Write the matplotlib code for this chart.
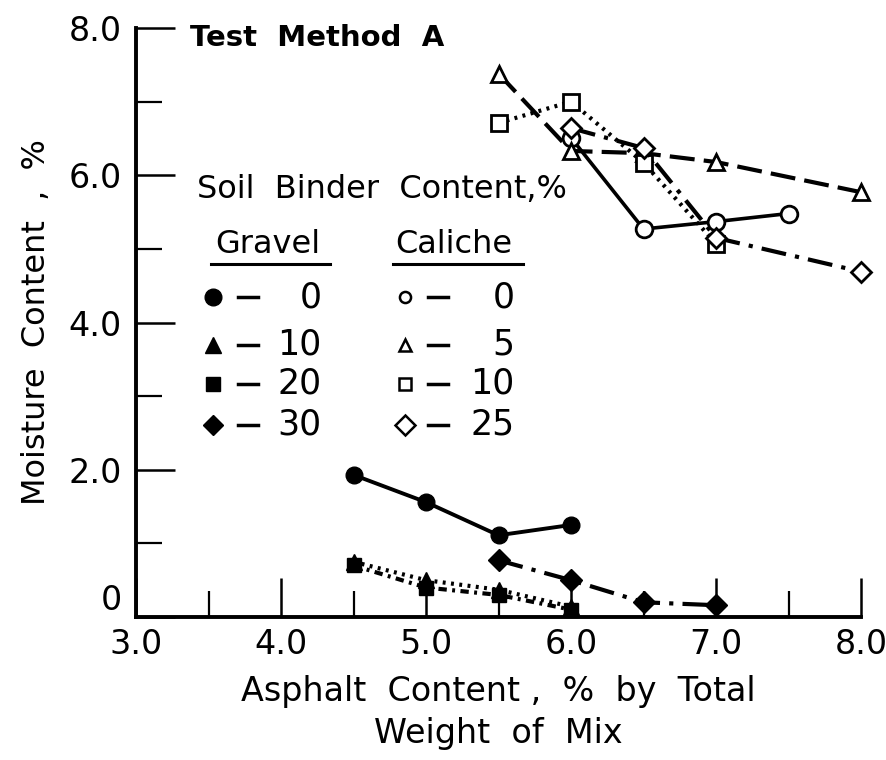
import numpy as np
import matplotlib.pyplot as plt
from matplotlib.ticker import MultipleLocator, FixedLocator

plt.rcParams['font.family'] = ['DejaVu Sans']

# caliche series (open markers)
cal0_x = [6.0, 6.5, 7.0, 7.5]
cal0_y = [6.51, 5.27, 5.37, 5.48]
cal5_x = [5.5, 6.0, 6.5, 7.0, 8.0]
cal5_y = [7.38, 6.33, 6.3, 6.18, 5.77]
cal10_x = [5.5, 6.0, 6.5, 7.0]
cal10_y = [6.71, 7.0, 6.17, 5.07]
cal25_x = [6.0, 6.5, 7.0, 8.0]
cal25_y = [6.64, 6.37, 5.15, 4.69]

# gravel series (filled markers)
gr0_x = [4.5, 5.0, 5.5, 6.0]
gr0_y = [1.93, 1.56, 1.11, 1.25]
gr10_x = [4.5, 5.0, 5.5, 6.0]
gr10_y = [0.75, 0.50, 0.37, 0.14]
gr20_x = [4.5, 5.0, 5.5, 6.0]
gr20_y = [0.70, 0.40, 0.30, 0.10]
gr30_x = [5.5, 6.0, 6.5, 7.0]
gr30_y = [0.77, 0.50, 0.20, 0.16]

xticks = [3.0, 4.0, 5.0, 6.0, 7.0, 8.0]
xtick_labels = ['3.0', '4.0', '5.0', '6.0', '7.0', '8.0']
yticks = [0, 2, 4, 6, 8]
ytick_labels = ['0', '2.0', '4.0', '6.0', '8.0']

fig = plt.figure(figsize=(8.86, 7.6), dpi=100)
ax = fig.add_axes([136 / 886, 1 - 617 / 760, 725 / 886, 589 / 760])

lw = 3.0
k = 'black'
ax.plot(cal0_x, cal0_y, '-', color=k, lw=2.6, marker='o', ms=12, mfc='white', mew=2, clip_on=False)
ax.plot(cal5_x, cal5_y, color=k, lw=lw, ls=(0, (6, 2.2)), marker='^', ms=12, mfc='white', mew=2, clip_on=False)
ax.plot(cal10_x, cal10_y, color=k, lw=lw, ls=(0, (0.7, 1.3)), marker='s', ms=11, mfc='white', mew=2, clip_on=False)
ax.plot(cal25_x, cal25_y, color=k, lw=lw, ls=(0, (6, 2.2, 1, 2.2)), marker='D', ms=10, mfc='white', mew=2, clip_on=False)

ax.plot(gr0_x, gr0_y, '-', color=k, lw=2.8, marker='o', ms=12, clip_on=False)
ax.plot(gr10_x, gr10_y, color=k, lw=lw, ls=(0, (0.7, 1.3)), marker='^', ms=12, clip_on=False)
ax.plot(gr20_x, gr20_y, color=k, lw=lw, ls=(0, (2, 1.3, 0.7, 1.3)), marker='s', ms=10, clip_on=False)
ax.plot(gr30_x, gr30_y, color=k, lw=lw, ls=(0, (6, 2.2, 1, 2.2)), marker='D', ms=11, clip_on=False)

ax.set_xlim(3, 8)
ax.set_ylim(0, 8)
for s in ['top', 'right']:
    ax.spines[s].set_visible(False)
for s in ['left', 'bottom']:
    ax.spines[s].set_linewidth(2.8)

ax.xaxis.set_major_locator(FixedLocator(xticks))
ax.set_xticklabels(xtick_labels)
ax.xaxis.set_minor_locator(MultipleLocator(0.5))
ax.yaxis.set_major_locator(FixedLocator(yticks))
ax.set_yticklabels(ytick_labels)
ax.yaxis.set_minor_locator(MultipleLocator(1.0))
ax.tick_params(which='major', direction='in', length=28, width=1.8, labelsize=24, pad=10)
ax.tick_params(which='minor', direction='in', length=19, width=1.6)
ax.tick_params(axis='x', which='major', pad=8)
# the "0" on the y axis sits a little above the axis line
ax.yaxis.get_major_ticks()[0].label1.set_va('bottom')

ax.set_xlabel('Asphalt  Content ,  %  by  Total\nWeight  of  Mix', fontsize=24,
              labelpad=10, linespacing=1.35)
ax.set_ylabel('Moisture  Content  ,  %', fontsize=23, labelpad=12)

ax.text(0.074, 0.983, 'Test  Method  A', transform=ax.transAxes, fontsize=21,
        fontweight='bold', va='center', ha='left')

# hand-drawn legend
tr = ax.transAxes
ax.text(0.084, 0.725, 'Soil  Binder  Content,%', transform=tr, fontsize=23, va='center')
ax.text(0.109, 0.632, 'Gravel', transform=tr, fontsize=23, va='center')
ax.text(0.357, 0.632, 'Caliche', transform=tr, fontsize=23, va='center')
ax.plot([0.103, 0.268], [0.600, 0.600], transform=tr, color=k, lw=2.2)
ax.plot([0.354, 0.534], [0.600, 0.600], transform=tr, color=k, lw=2.2)

rows_y = [0.543, 0.462, 0.396, 0.326]
gr_labels = ['0', '10', '20', '30']
cal_labels = ['0', '5', '10', '25']
gr_marks = [('o', 12), ('^', 12), ('s', 10), ('D', 10)]
cal_marks = [('o', 8), ('^', 8), ('s', 8), ('D', 10)]
for yy, gl, cl, gm, cm in zip(rows_y, gr_labels, cal_labels, gr_marks, cal_marks):
    ax.plot([0.106], [yy], transform=tr, marker=gm[0], ms=gm[1], color=k, ls='none')
    ax.plot([0.140, 0.168], [yy, yy], transform=tr, color=k, lw=2.5)
    ax.text(0.256, yy, gl, transform=tr, fontsize=25, va='center', ha='right')
    ax.plot([0.371], [yy], transform=tr, marker=cm[0], ms=cm[1], color=k, mfc='white',
            mew=1.8, ls='none')
    ax.plot([0.403, 0.431], [yy, yy], transform=tr, color=k, lw=2.5)
    ax.text(0.522, yy, cl, transform=tr, fontsize=25, va='center', ha='right')

fig.savefig('out.png', dpi=100)
